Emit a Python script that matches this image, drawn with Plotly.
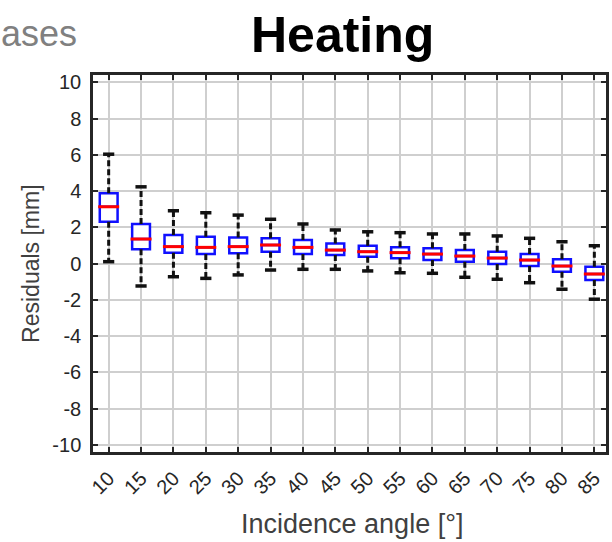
import plotly.graph_objects as go

# ---- data ----
angles = [10, 15, 20, 25, 30, 35, 40, 45, 50, 55, 60, 65, 70, 75, 80, 85]
q1 = [2.30, 0.78, 0.59, 0.52, 0.56, 0.65, 0.52, 0.47, 0.37, 0.29, 0.19, 0.10, -0.03, -0.14, -0.45, -0.91]
median = [3.13, 1.35, 0.93, 0.89, 0.93, 1.02, 0.89, 0.74, 0.65, 0.60, 0.52, 0.41, 0.30, 0.19, -0.14, -0.58]
q3 = [3.87, 2.18, 1.57, 1.48, 1.44, 1.39, 1.29, 1.11, 0.98, 0.89, 0.84, 0.74, 0.65, 0.52, 0.23, -0.18]
lower_whisker = [0.10, -1.24, -0.73, -0.82, -0.63, -0.36, -0.32, -0.32, -0.41, -0.51, -0.54, -0.76, -0.87, -1.06, -1.42, -1.97]
upper_whisker = [6.03, 4.23, 2.91, 2.80, 2.67, 2.44, 2.18, 1.85, 1.75, 1.70, 1.63, 1.63, 1.52, 1.39, 1.20, 0.98]
y_ticks = [-10, -8, -6, -4, -2, 0, 2, 4, 6, 8, 10]

FONT = "Liberation Sans, Arial, sans-serif"

fig = go.Figure()

# boxes (interquartile range only; whiskers drawn separately as dashed lines)
fig.add_trace(go.Box(
    x=angles, q1=q1, median=median, q3=q3,
    lowerfence=q1, upperfence=q3,
    width=2.75, whiskerwidth=0, boxpoints=False,
    fillcolor="white", line=dict(color="#1010ff", width=2.5),
    showlegend=False, hoverinfo="skip",
))

# whiskers
wx, wy = [], []
for a, lo, hi, b1, b3 in zip(angles, lower_whisker, upper_whisker, q1, q3):
    wx += [a, a, None, a, a, None]
    wy += [b3, hi, None, b1, lo, None]
fig.add_trace(go.Scatter(
    x=wx, y=wy, mode="lines",
    line=dict(color="#111111", width=3, dash="6px,3px"),
    showlegend=False, hoverinfo="skip",
))

# whisker caps
fig.add_trace(go.Scatter(
    x=angles + angles, y=upper_whisker + lower_whisker, mode="markers",
    marker=dict(symbol="line-ew", size=8, line=dict(color="#111111", width=3.5)),
    showlegend=False, hoverinfo="skip",
))

# medians
fig.add_trace(go.Scatter(
    x=angles, y=median, mode="markers",
    marker=dict(symbol="line-ew", size=15, line=dict(color="#ff0000", width=3)),
    showlegend=False, hoverinfo="skip",
))

axis_common = dict(
    showline=True, linecolor="#262626", linewidth=2.5, mirror="allticks",
    ticks="inside", ticklen=5, tickwidth=2, tickcolor="#262626",
    showgrid=True, gridcolor="#cfcfcf", gridwidth=1.6, zeroline=False,
)

fig.update_xaxes(
    range=[7.58, 86.8], tickmode="array", tickvals=angles,
    ticktext=[str(a) for a in angles], tickangle=-45,
    tickfont=dict(family=FONT, size=20, color="#262626"),
    ticklabelstandoff=4,
    **axis_common,
)
fig.update_yaxes(
    range=[-10.4, 10.4], tickmode="array", tickvals=y_ticks,
    ticktext=[str(t) for t in y_ticks],
    tickfont=dict(family=FONT, size=20, color="#262626"),
    ticklabelstandoff=5,
    **axis_common,
)

fig.update_layout(
    width=612, height=542,
    margin=dict(l=93, r=3, t=75, b=90),
    plot_bgcolor="white", paper_bgcolor="white",
    font=dict(family=FONT),
    annotations=[
        dict(text="<b>Heating</b>", xref="paper", yref="paper",
             x=0.486, y=1.106, xanchor="center", yanchor="middle",
             showarrow=False, font=dict(family=FONT, size=50, color="black")),
        dict(text="ases", xref="paper", yref="paper",
             x=-0.027, y=1.11, xanchor="right", yanchor="middle",
             showarrow=False, font=dict(family=FONT, size=36, color="#808080")),
        dict(text="Residuals [mm]", xref="paper", yref="paper",
             x=-0.122, y=0.5, xanchor="center", yanchor="middle", textangle=-90,
             showarrow=False, font=dict(family=FONT, size=23, color="#404040")),
        dict(text="Incidence angle [°]", xref="paper", yref="paper",
             x=0.504, y=-0.19, xanchor="center", yanchor="middle",
             showarrow=False, font=dict(family=FONT, size=27, color="#404040")),
    ],
)

fig.write_html("out.html")
